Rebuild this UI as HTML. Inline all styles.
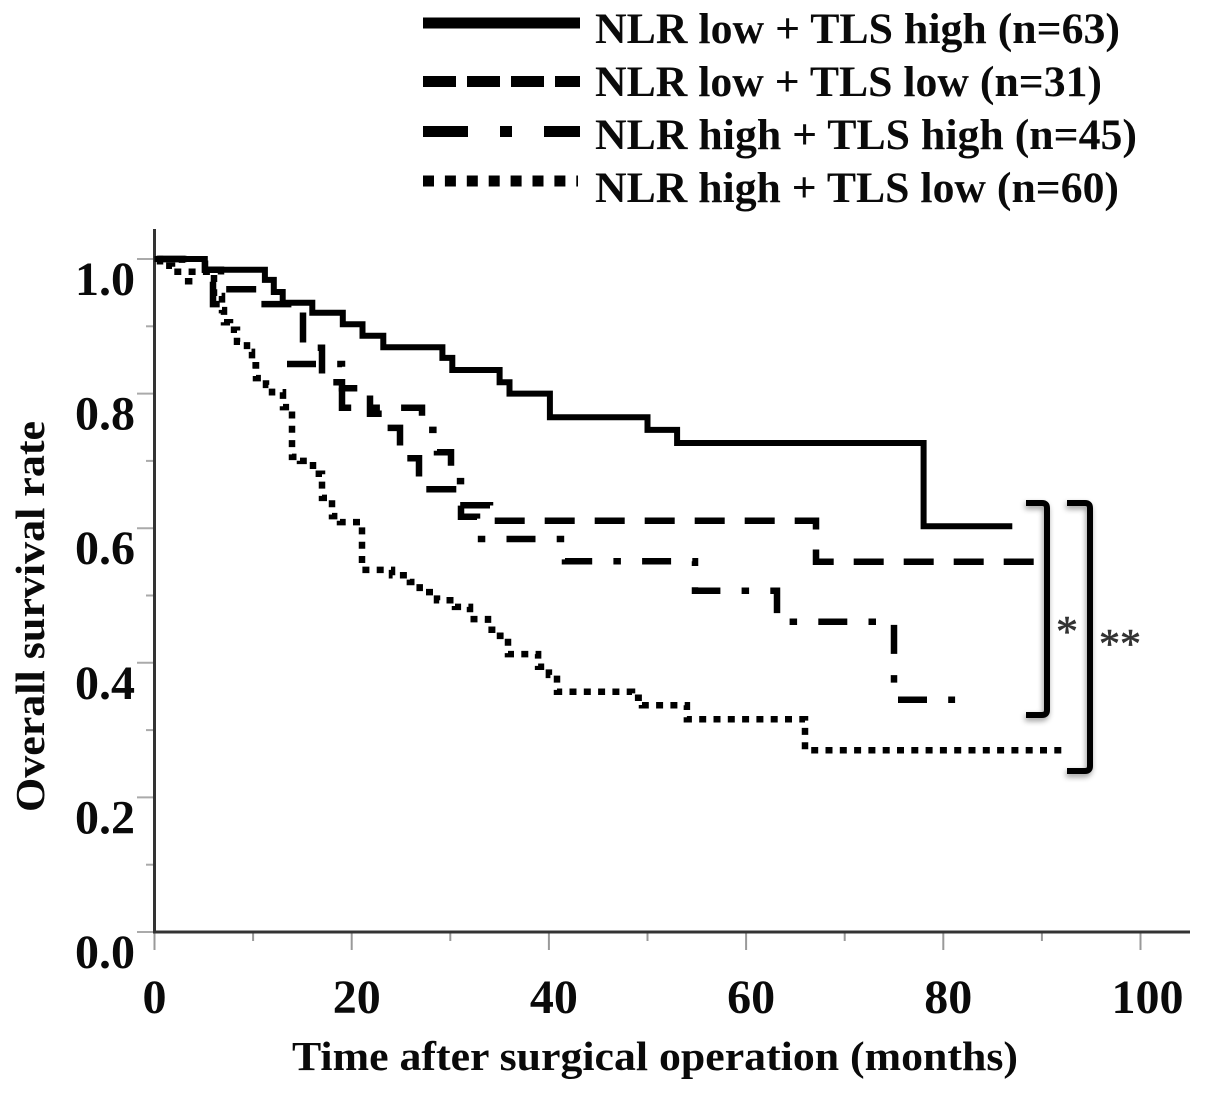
<!DOCTYPE html>
<html lang="en">
<head>
<meta charset="utf-8">
<title>Overall survival by NLR and TLS</title>
<style>
html,body{margin:0;padding:0;background:#fff;}
svg{display:block;}
text{font-family:"Liberation Serif",serif;font-weight:bold;fill:#0a0a0a;}
</style>
</head>
<body>
<svg id="chart" xmlns="http://www.w3.org/2000/svg" width="1205" height="1094" viewBox="0 0 1205 1094">
  <defs>
    <filter id="soft-shadow" x="-30%" y="-10%" width="180%" height="120%">
      <feGaussianBlur in="SourceAlpha" stdDeviation="3"/>
      <feOffset dx="-1" dy="3"/>
      <feComponentTransfer><feFuncA type="linear" slope="0.4"/></feComponentTransfer>
      <feMerge><feMergeNode/><feMergeNode in="SourceGraphic"/></feMerge>
    </filter>
  </defs>
  <g id="legend">
    <line x1="423" x2="580" y1="23" y2="23" stroke="#000" stroke-width="11"/>
    <text x="595" y="43" font-size="43" textLength="525" lengthAdjust="spacingAndGlyphs">NLR low + TLS high (n=63)</text>
    <line x1="423" x2="580" y1="81.5" y2="81.5" stroke="#000" stroke-width="11" stroke-dasharray="33 11"/>
    <text x="595" y="96" font-size="43" textLength="507" lengthAdjust="spacingAndGlyphs">NLR low + TLS low (n=31)</text>
    <line x1="423" x2="580" y1="131.5" y2="131.5" stroke="#000" stroke-width="11" stroke-dasharray="45 32 12 32"/>
    <text x="595" y="149" font-size="43" textLength="542" lengthAdjust="spacingAndGlyphs">NLR high + TLS high (n=45)</text>
    <line x1="423" x2="578" y1="181" y2="181" stroke="#000" stroke-width="11" stroke-dasharray="11 10.9"/>
    <text x="595" y="202" font-size="43" textLength="524" lengthAdjust="spacingAndGlyphs">NLR high + TLS low (n=60)</text>
  </g>
  <g id="axes"></g>
  <g id="series"></g>
  <g id="annotations">
    <path d="M1026 503 H1042 Q1047 503 1047 508 V710 Q1047 715 1042 715 H1026" fill="none" stroke="#000" stroke-width="6" filter="url(#soft-shadow)"/>
    <path d="M1067 503 H1085 Q1090 503 1090 508 V766 Q1090 771 1085 771 H1067" fill="none" stroke="#000" stroke-width="6" filter="url(#soft-shadow)"/>
    <text x="1067" y="646" font-size="44" text-anchor="middle" stroke="#333" stroke-width="0.6" style="font-weight:normal;fill:#333">*</text>
    <text x="1120" y="658" font-size="42" text-anchor="middle" stroke="#333" stroke-width="0.6" style="font-weight:normal;fill:#333">**</text>
  </g>
  <text transform="translate(44,812) rotate(-90)" x="0" y="0" font-size="41" textLength="391" lengthAdjust="spacingAndGlyphs">Overall survival rate</text>
  <text x="292" y="1070" font-size="41" textLength="726" lengthAdjust="spacingAndGlyphs">Time after surgical operation (months)</text>
</svg>
<script>
var xTickValues = [0, 20, 40, 60, 80, 100];
var xMinorTickValues = [10, 30, 50, 70, 90];
var yTickValues = [0, 0.2, 0.4, 0.6, 0.8, 1];
var yMinorTickValues = [0.1, 0.3, 0.5, 0.7, 0.9];
var yTickLabels = ['0.0', '0.2', '0.4', '0.6', '0.8', '1.0'];

var lowHighMonths = [0, 5.1, 11.2, 12.1, 13, 16, 19.1, 21.1, 23.2, 29.2, 30.2, 35, 36, 40.1, 50, 53, 78, 87];
var lowHighSurvival = [1, 0.984, 0.969, 0.951, 0.935, 0.92, 0.903, 0.886, 0.869, 0.853, 0.835, 0.817, 0.8, 0.765, 0.746, 0.7266, 0.603, 0.603];

var lowLowMonths = [0, 5.12, 6.74, 10.5, 15.06, 16.99, 19.02, 21.04, 21.86, 23.07, 24.9, 26.83, 30.68, 34.03, 67.09, 89.3];
var lowLowSurvival = [1, 0.984, 0.955, 0.933, 0.868, 0.817, 0.808, 0.798, 0.77, 0.749, 0.704, 0.658, 0.634, 0.611, 0.55, 0.55];

var highHighEarlyMonths = [0, 2.79, 5.93, 6.64];
var highHighEarlySurvival = [1, 0.967, 0.933, 0.933];
var highHighLateMonths = [13.44, 19.02, 27.13, 28.65, 30.07, 31.09, 32.71, 41.63, 54.82, 63.13, 75, 81.2];
var highHighLateSurvival = [0.844, 0.779, 0.746, 0.713, 0.67, 0.617, 0.584, 0.551, 0.507, 0.461, 0.345, 0.345];

var highLowMonths = [0, 0.56, 1.77, 6.03, 6.85, 7.05, 7.66, 8.37, 9.38, 9.89, 10.29, 11.31, 11.92, 13.03, 13.95, 14.76, 16.07, 16.99, 18, 18.81, 21.04, 24.09, 25.9, 26.9, 28.65, 30.48, 32, 33.82, 35.04, 35.85, 38.9, 40, 40.82, 48.43, 49.44, 54, 65.97, 92.14];
var highLowSurvival = [1, 0.99, 0.981, 0.945, 0.924, 0.906, 0.895, 0.877, 0.862, 0.842, 0.823, 0.813, 0.802, 0.78, 0.706, 0.7, 0.681, 0.645, 0.618, 0.609, 0.538, 0.53, 0.52, 0.505, 0.493, 0.483, 0.465, 0.449, 0.44, 0.413, 0.394, 0.382, 0.357, 0.348, 0.337, 0.316, 0.27, 0.27];

var NS = 'http://www.w3.org/2000/svg';
function xScale(t) { return 154.5 + 9.86 * t; }
function yScale(v) { return 932 - 673 * v; }

function stepPath(months, survival) {
  var d = 'M' + xScale(months[0]).toFixed(1) + ' ' + yScale(survival[0]).toFixed(1);
  for (var i = 1; i < months.length; i++) {
    d += ' H' + xScale(months[i]).toFixed(1) + ' V' + yScale(survival[i]).toFixed(1);
  }
  return d;
}

var axes = document.getElementById('axes');
function addLine(x1, y1, x2, y2, color, width, name) {
  var l = document.createElementNS(NS, 'line');
  l.setAttribute('x1', x1);
  l.setAttribute('y1', y1);
  l.setAttribute('x2', x2);
  l.setAttribute('y2', y2);
  l.setAttribute('stroke', color);
  l.setAttribute('stroke-width', width);
  
  
  axes.appendChild(l);
}
function addLabel(x, y, str, name) {
  var t = document.createElementNS(NS, 'text');
  t.setAttribute('x', x);
  t.setAttribute('y', y);
  t.setAttribute('font-size', '48');
  t.textContent = str;
  
  
  axes.appendChild(t);
  return t;
}

xMinorTickValues.forEach(function (v) { addLine(xScale(v), 932, xScale(v), 941, '#999', 2, 'x-minor-tick'); });
yMinorTickValues.forEach(function (v) { addLine(146, yScale(v), 154, yScale(v), '#aaa', 2, 'y-minor-tick'); });
xTickValues.forEach(function (v) {
  addLine(xScale(v), 932, xScale(v), 950, '#999', 2, 'x-major-tick');
  var shift = v === 0 ? 0 : (v === 100 ? 7 : 5);
  var t = addLabel(xScale(v) + shift, 1013, String(v), 'x-tick-label');
  t.setAttribute('text-anchor', 'middle');
});
yTickValues.forEach(function (v, i) {
  addLine(137, yScale(v), 154, yScale(v), '#aaa', 2, 'y-major-tick');
  var t = addLabel(135, yScale(v) + 36, yTickLabels[i], 'y-tick-label');
  t.setAttribute('text-anchor', 'end');
});
addLine(154.5, 229, 154.5, 933, '#333', 3, 'y-axis-line');
addLine(153, 932, 1190, 932, '#333', 3, 'x-axis-line');

var seriesGroup = document.getElementById('series');
function addCurve(months, survival, width, dash, offset, name) {
  var p = document.createElementNS(NS, 'path');
  p.setAttribute('d', stepPath(months, survival));
  p.setAttribute('fill', 'none');
  p.setAttribute('stroke', '#000');
  p.setAttribute('stroke-width', width);
  p.setAttribute('stroke-linejoin', 'miter');
  if (dash) {
    p.setAttribute('stroke-dasharray', dash);
    p.setAttribute('stroke-dashoffset', offset);
  }
  
  
  seriesGroup.appendChild(p);
}

addCurve(highLowMonths, highLowSurvival, 6.5, '7 7.3', 10.3, 'curve-nlr-high-tls-low');
addCurve(highHighEarlyMonths, highHighEarlySurvival, 6.5, '29 21.2 7.5 21.2', 76.5, 'curve-nlr-high-tls-high-early');
addCurve(highHighLateMonths, highHighLateSurvival, 6.5, '29 21.2 7.5 21.2', 0, 'curve-nlr-high-tls-high');
addCurve(lowLowMonths, lowLowSurvival, 6.5, '30 20', 48, 'curve-nlr-low-tls-low');
addCurve(lowHighMonths, lowHighSurvival, 6, '', 0, 'curve-nlr-low-tls-high');
</script>
</body>
</html>
